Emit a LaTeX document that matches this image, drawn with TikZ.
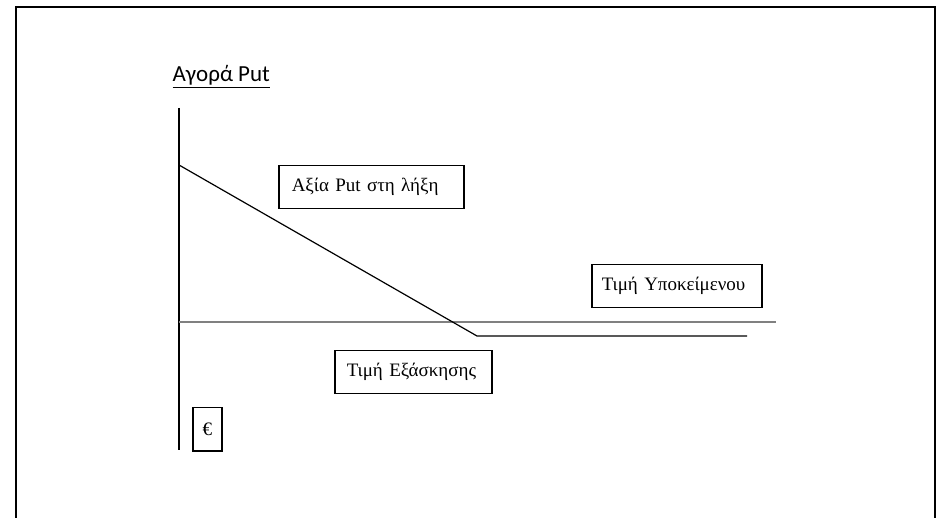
\documentclass[tikz,border=0pt]{standalone}
\usepackage{fontspec}
\setmainfont{Liberation Serif}
\newfontfamily\titlefont{Carlito}

\begin{document}
\begin{tikzpicture}[x=1pt, y=-1pt, line width=1.2pt,
    valuebox/.style={draw, line width=1.5pt, anchor=north west, inner xsep=13pt,
        inner ysep=0pt, minimum height=43pt, align=left,
        font=\fontsize{19}{22}\selectfont},
    axisline/.style={draw, gray, line width=1.5pt}]
    \useasboundingbox (0, 0) rectangle (937, 518);

    % Frame
    \draw[line width=2pt] (16, 518) -- (16, 7) -- (935, 7) -- (935, 518);

    % Title
    \node[anchor=base west, inner sep=0pt, font=\titlefont\fontsize{23}{27}\selectfont]
        (title) at (172, 82) {\underline{Αγορά Put}};

    % Axes
    \coordinate (ytop) at (179, 108);
    \coordinate (ybot) at (179, 450);
    \coordinate (xleft) at (179, 322);
    \coordinate (xright) at (776, 322);
    \draw (ytop) -- (ybot);
    \draw[axisline] (xleft) -- (xright);

    % Payoff of the put
    \coordinate (p0) at (179, 165);
    \coordinate (strike) at (477, 336);
    \coordinate (p1) at (747, 336);
    \draw (p0) -- (strike) -- (p1);

    % Labels
    \node[valuebox, text width=159pt] (value) at (278, 165) {Αξία Put στη λήξη};
    \node[valuebox, text width=150pt, inner xsep=10pt] (under) at (591, 264) {Τιμή Υποκείμενου};
    \node[valuebox, text width=133pt, inner xsep=12pt] (exer) at (334, 350) {Τιμή Εξάσκησης};
    \node[valuebox, minimum width=29pt, inner xsep=0pt, align=center] (euro) at (192, 407) {€};
\end{tikzpicture}
\end{document}
